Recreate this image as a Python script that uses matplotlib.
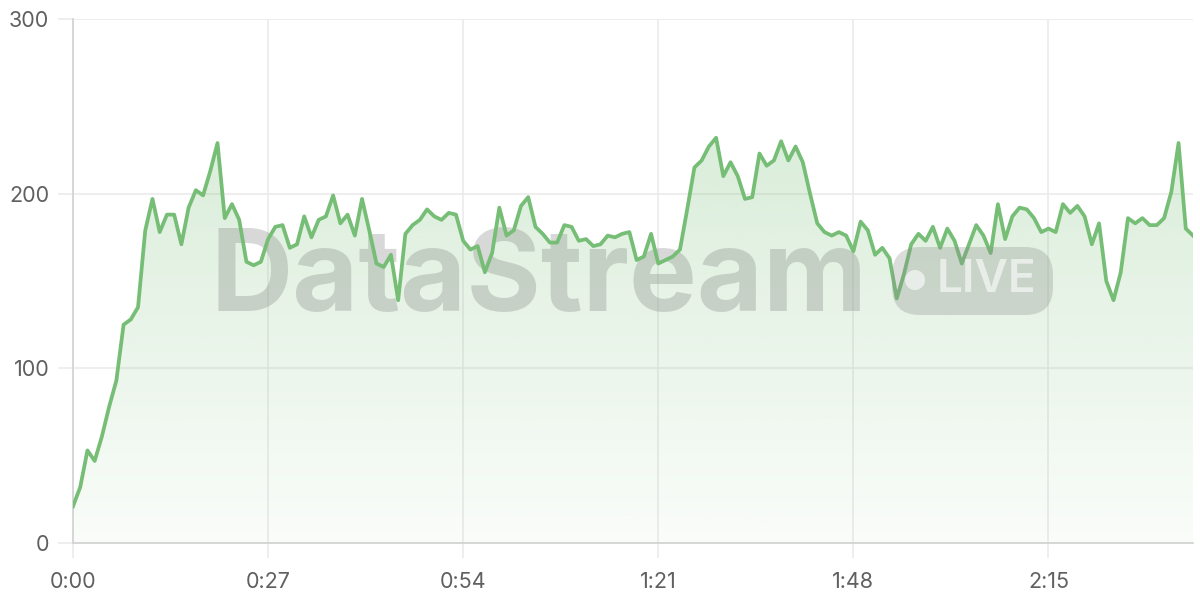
import numpy as np
import matplotlib
matplotlib.use("Agg")
import matplotlib.pyplot as plt
from matplotlib.patches import FancyBboxPatch, Circle

plt.rcParams['font.family'] = ['Inter', 'DejaVu Sans']

# viewers per second (x = seconds since start)
viewers = [21, 32, 53, 47, 61, 78, 93, 125, 128, 135,
           179, 197, 178, 188, 188, 171, 192, 202, 199, 213,
           229, 186, 194, 185, 161, 159, 161, 174, 181, 182,
           169, 171, 187, 175, 185, 187, 199, 183, 188, 176,
           197, 179, 160, 158, 165, 139, 177, 182, 185, 191,
           187, 185, 189, 188, 173, 168, 170, 155, 166, 192,
           176, 179, 193, 198, 181, 177, 172, 172, 182, 181,
           173, 174, 170, 171, 176, 175, 177, 178, 162, 164,
           177, 160, 162, 164, 168, 191, 215, 219, 227, 232,
           210, 218, 210, 197, 198, 223, 216, 219, 230, 219,
           227, 218, 200, 183, 178, 176, 178, 176, 167, 184,
           179, 165, 169, 163, 140, 154, 171, 177, 173, 181,
           169, 180, 173, 160, 171, 182, 176, 166, 194, 174,
           187, 192, 191, 186, 178, 180, 178, 194, 189, 193,
           187, 171, 183, 150, 139, 155, 186, 183, 186, 182,
           182, 186, 201, 229, 180, 176]
seconds = np.arange(len(viewers))
x_ticks = [0, 27, 54, 81, 108, 135]
y_ticks = [0, 100, 200, 300]

green = '#76bd76'

fig = plt.figure(figsize=(12, 6), dpi=100)
ax = fig.add_axes([73 / 1200, 57 / 600, 1120 / 1200, 524 / 600])
ax.set_xlim(0, seconds[-1])
ax.set_ylim(0, 300)

# gradient fill under the line
poly = ax.fill_between(seconds, viewers, 0, color='none', lw=0)
grad = np.linspace(0.04, 0.27, 256).reshape(-1, 1)
rgba = np.zeros((256, 1, 4))
rgba[..., 0] = 0x76 / 255
rgba[..., 1] = 0xbd / 255
rgba[..., 2] = 0x76 / 255
rgba[..., 3] = grad
img = ax.imshow(rgba, extent=[0, seconds[-1], 0, max(viewers)], origin='lower',
                aspect='auto', zorder=1, interpolation='bilinear')
img.set_clip_path(poly.get_paths()[0], transform=ax.transData)

# watermark
wm = '#8a8f8a'
ax.text((210 - 73) / 1120, 0.5, 'DataStream', transform=ax.transAxes, fontsize=82,
        fontweight='bold', color=wm, alpha=0.34, ha='left', va='center',
        zorder=2)
pill = FancyBboxPatch((892, 600 - 315), 161, 68, boxstyle='round,pad=0,rounding_size=28',
                      transform=None, facecolor=wm, alpha=0.3, lw=0, zorder=2)
fig.patches.append(pill)
fig.patches.append(Circle((915, 600 - 280), 10, transform=None,
                          facecolor='white', alpha=0.6, lw=0, zorder=3))
fig.text(937 / 1200, 1 - 280 / 600, 'LIVE', fontsize=33, fontweight='semibold',
         color='white', alpha=0.6, ha='left', va='center', zorder=3)

ax.plot(seconds, viewers, color=green, lw=2.7, zorder=4)

ax.set_xticks(x_ticks)
ax.set_xticklabels([f'{t // 60}:{t % 60:02d}' for t in x_ticks])
ax.set_yticks(y_ticks)
ax.grid(True, color='#ebebeb', lw=1.2)
ax.set_axisbelow(True)
for s in ['top', 'right']:
    ax.spines[s].set_visible(False)
for s in ['left', 'bottom']:
    ax.spines[s].set_color('#d4d4d4')
    ax.spines[s].set_linewidth(1.3)
ax.tick_params(length=11, width=1.2, color='#ebebeb', labelcolor='#606060',
               labelsize=15.5)
ax.tick_params(axis='x', pad=10)
ax.tick_params(axis='y', pad=6)

fig.savefig('out.png', dpi=100)
